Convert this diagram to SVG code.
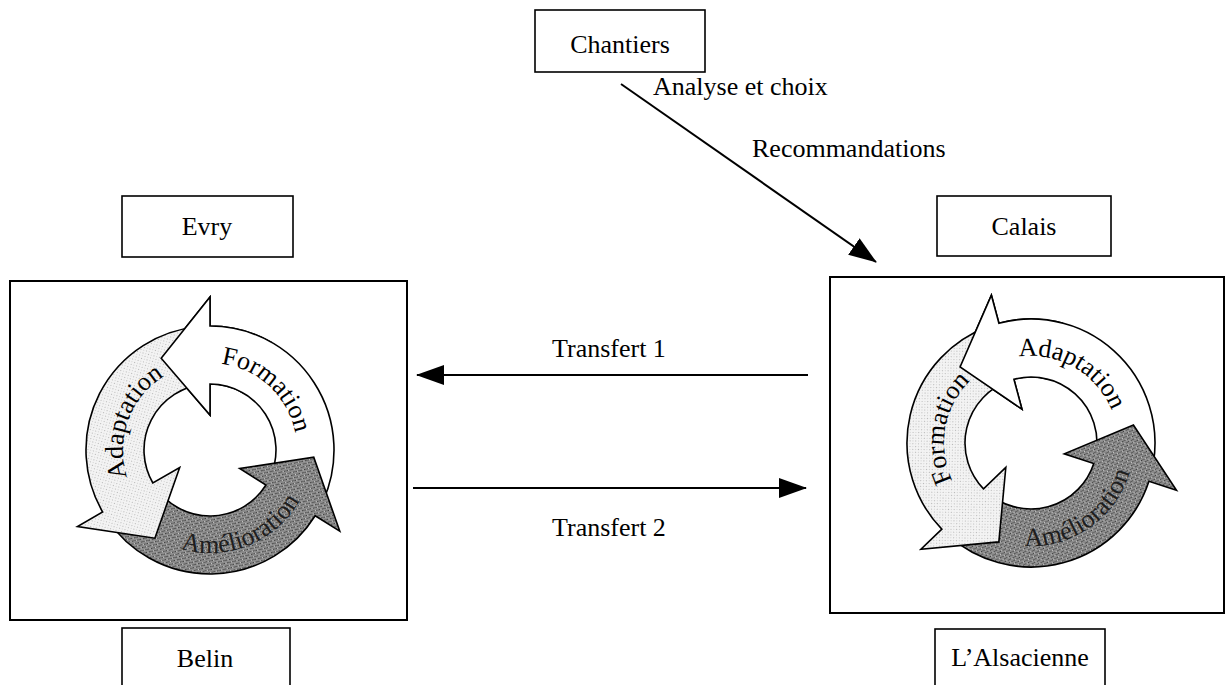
<svg xmlns="http://www.w3.org/2000/svg" xmlns:xlink="http://www.w3.org/1999/xlink" width="1227" height="685" viewBox="0 0 1227 685">
<style>
.box{fill:#fff;stroke:#000;stroke-width:1.6}
.frame{fill:#fff;stroke:#000;stroke-width:2}
.lbl{font-family:"Liberation Serif","Times New Roman",serif;font-size:26px;fill:#000}
.cyc{font-family:"Liberation Serif","Times New Roman",serif;font-size:26px;fill:#000}
.arr{stroke:#000;stroke-width:1.6;stroke-linejoin:miter}
.white{fill:#fff}
.light{fill:url(#pLight)}
.dark{fill:url(#pDark)}
.conn{stroke:#000;stroke-width:2;fill:none}
</style>
<defs>
<pattern id="pLight" width="4" height="4" patternUnits="userSpaceOnUse">
<rect width="4" height="4" fill="#f3f3f3"/>
<rect x="1" y="1" width="1" height="1" fill="#b5b5b5"/>
<rect x="3" y="3" width="1" height="1" fill="#d2d2d2"/>
</pattern>
<pattern id="pDark" width="4" height="4" patternUnits="userSpaceOnUse">
<rect width="4" height="4" fill="#8e8e8e"/>
<rect x="0" y="0" width="1" height="1" fill="#3a3a3a"/>
<rect x="2" y="2" width="1" height="1" fill="#3a3a3a"/>
<rect x="1" y="3" width="1" height="1" fill="#c8c8c8"/>
<rect x="3" y="1" width="1" height="1" fill="#555"/>
</pattern>
<marker id="ah" viewBox="0 0 28 20" refX="27" refY="10" markerWidth="28" markerHeight="20" markerUnits="userSpaceOnUse" orient="auto">
<path d="M0 0 L28 10 L0 20 Z" fill="#000"/>
</marker>
<path id="tpLF" d="M 157.64 380.52 A 87 87 0 0 1 282.96 497.38"/>
<path id="tpLA" d="M 166.5 525.34 A 87 87 0 0 1 225.11 364.32"/>
<path id="tpLM" d="M 122.65 504.58 A 103 103 0 0 0 310.75 428.59"/>
<path id="tpRA" d="M 964.35 387.08 A 87 87 0 0 1 1112.75 472.76"/>
<path id="tpRF" d="M 1001.24 524.75 A 87 87 0 0 1 1031 356"/>
<path id="tpRM" d="M 958.17 515.83 A 103 103 0 0 0 1124.35 399.47"/>
</defs>
<rect width="1227" height="685" fill="#fff"/>

<g id="node-chantiers">
<rect class="box" x="535" y="10" width="170" height="62"/>
<text class="lbl" x="620" y="53" text-anchor="middle">Chantiers</text>
</g>

<g id="node-evry">
<rect class="box" x="122" y="196" width="171" height="61"/>
<text class="lbl" x="207" y="235" text-anchor="middle">Evry</text>
</g>

<g id="node-calais">
<rect class="box" x="937" y="196" width="174" height="60"/>
<text class="lbl" x="1024" y="235" text-anchor="middle">Calais</text>
</g>

<g id="node-cycle-evry">
<rect class="frame" x="10" y="281" width="397" height="339"/>
<g transform="translate(210,450)">
<path class="arr white" transform="rotate(-90)" d="M -50.44 113.28 A 124 124 0 0 0 124 0 L 153 0 L 91.83 -48.82 L 35 0 L 66 0 A 66 66 0 0 1 -26.84 60.29 Z"/>
<path class="arr dark" transform="rotate(32)" d="M -50.44 113.28 A 124 124 0 0 0 124 0 L 153 0 L 91.83 -48.82 L 35 0 L 66 0 A 66 66 0 0 1 -26.84 60.29 Z"/>
<path class="arr light" transform="rotate(150)" d="M -50.44 113.28 A 124 124 0 0 0 124 0 L 153 0 L 91.83 -48.82 L 35 0 L 66 0 A 66 66 0 0 1 -26.84 60.29 Z"/>
<path fill="#fff" stroke="none" transform="rotate(-90)" d="M 107.39 62 A 124 124 0 0 0 124 0 L 153 0 L 91.83 -48.82 L 35 0 L 66 0 A 66 66 0 0 1 57.16 33 Z"/>
<path class="arr" fill="none" transform="rotate(-90)" d="M 107.39 62 A 124 124 0 0 0 124 0 L 153 0 L 91.83 -48.82 L 35 0 L 66 0 A 66 66 0 0 1 57.16 33"/>
</g>
<text class="cyc"><textPath xlink:href="#tpLF" href="#tpLF" startOffset="50%" text-anchor="middle">Formation</textPath></text>
<text class="cyc"><textPath xlink:href="#tpLA" href="#tpLA" startOffset="50%" text-anchor="middle">Adaptation</textPath></text>
<text class="cyc" style="fill:#1e1e1e"><textPath xlink:href="#tpLM" href="#tpLM" startOffset="50%" text-anchor="middle">Amélioration</textPath></text>
</g>

<g id="node-cycle-calais">
<rect class="frame" x="830" y="277" width="394" height="336"/>
<g transform="translate(1031,443)">
<path class="arr white" transform="rotate(-105)" d="M -50.44 113.28 A 124 124 0 0 0 124 0 L 153 0 L 91.83 -48.82 L 35 0 L 66 0 A 66 66 0 0 1 -26.84 60.29 Z"/>
<path class="arr dark" transform="rotate(18)" d="M -50.44 113.28 A 124 124 0 0 0 124 0 L 153 0 L 91.83 -48.82 L 35 0 L 66 0 A 66 66 0 0 1 -26.84 60.29 Z"/>
<path class="arr light" transform="rotate(136)" d="M -50.44 113.28 A 124 124 0 0 0 124 0 L 153 0 L 91.83 -48.82 L 35 0 L 66 0 A 66 66 0 0 1 -26.84 60.29 Z"/>
<path fill="#fff" stroke="none" transform="rotate(-105)" d="M 107.39 62 A 124 124 0 0 0 124 0 L 153 0 L 91.83 -48.82 L 35 0 L 66 0 A 66 66 0 0 1 57.16 33 Z"/>
<path class="arr" fill="none" transform="rotate(-105)" d="M 107.39 62 A 124 124 0 0 0 124 0 L 153 0 L 91.83 -48.82 L 35 0 L 66 0 A 66 66 0 0 1 57.16 33"/>
</g>
<text class="cyc"><textPath xlink:href="#tpRA" href="#tpRA" startOffset="50%" text-anchor="middle">Adaptation</textPath></text>
<text class="cyc"><textPath xlink:href="#tpRF" href="#tpRF" startOffset="50%" text-anchor="middle">Formation</textPath></text>
<text class="cyc" style="fill:#1e1e1e"><textPath xlink:href="#tpRM" href="#tpRM" startOffset="50%" text-anchor="middle">Amélioration</textPath></text>
</g>

<g id="node-belin">
<rect class="box" x="122" y="628" width="168" height="70"/>
<text class="lbl" x="205" y="667" text-anchor="middle">Belin</text>
</g>

<g id="node-alsacienne">
<rect class="box" x="935" y="629" width="170" height="70"/>
<text class="lbl" x="1020" y="666" text-anchor="middle">L’Alsacienne</text>
</g>

<g id="connectors">
<line class="conn" x1="621" y1="84" x2="876" y2="262" marker-end="url(#ah)"/>
<text class="lbl" x="653" y="95">Analyse et choix</text>
<text class="lbl" x="752" y="157">Recommandations</text>
<line class="conn" x1="808" y1="375" x2="417" y2="375" marker-end="url(#ah)"/>
<text class="lbl" x="552" y="357">Transfert 1</text>
<line class="conn" x1="413" y1="488" x2="806" y2="488" marker-end="url(#ah)"/>
<text class="lbl" x="552" y="536">Transfert 2</text>
</g>
</svg>
